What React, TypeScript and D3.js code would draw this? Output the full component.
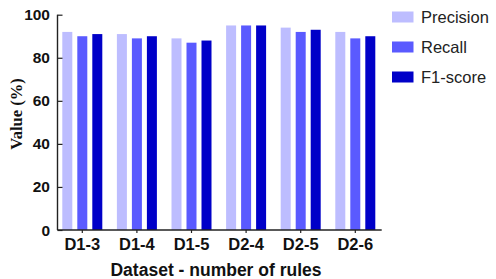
import { useEffect, useRef } from 'react'
import * as d3 from 'd3'

const categories = ['D1-3', 'D1-4', 'D1-5', 'D2-4', 'D2-5', 'D2-6']
const seriesNames = ['Precision', 'Recall', 'F1-score']
const precision = [92, 91, 89, 95, 94, 92]
const recall = [90, 89, 87, 95, 92, 89]
const f1score = [91, 90, 88, 95, 93, 90]
const yTicks = [0, 20, 40, 60, 80, 100]

const colors = ['#bdbdff', '#5a5aff', '#0000c8']

export default function App() {
  const svgRef = useRef(null)

  const svgWidth = 496
  const svgHeight = 279

  useEffect(() => {
    svgRef.current.innerHTML = ''
    const values = [precision, recall, f1score]

    const svg = d3.select(svgRef.current)

    const yScale = d3.scaleLinear()
      .domain([0, 100])
      .range([230, 14.7])

    const xScale = d3.scaleBand()
      .domain(categories)
      .range([55, 382.6])

    const inner = d3.scaleBand()
      .domain(seriesNames)
      .range([-22.5, 22.5])
      .paddingInner(1 / 3)
      .paddingOuter(1 / 6)

    const axisX0 = 57.5
    const axisX1 = 381.7

    // bars
    categories.forEach((c, ci) => {
      const cx = xScale(c) + xScale.bandwidth() / 2
      seriesNames.forEach((s, si) => {
        const v = values[si][ci]
        svg.append('rect')
          .attr('x', cx + inner(s))
          .attr('width', inner.bandwidth())
          .attr('y', yScale(v))
          .attr('height', yScale(0) - yScale(v))
          .attr('fill', colors[si])
      })
    })

    // y axis
    const yAxis = svg.append('g')
      .attr('transform', `translate(${axisX0}, 0)`)
      .call(d3.axisRight(yScale).tickValues(yTicks).tickSize(5).tickFormat(() => ''))
    yAxis.select('.domain').remove()
    yAxis.selectAll('line').attr('stroke', '#222').attr('stroke-width', 1.2)

    yTicks.forEach(t => {
      svg.append('text')
        .attr('x', 50)
        .attr('y', yScale(t) + 5.5)
        .attr('text-anchor', 'end')
        .style('font', 'bold 15.5px "Liberation Sans", Arial, sans-serif')
        .attr('fill', '#111')
        .text(t)
    })

    svg.append('line')
      .attr('x1', axisX0).attr('x2', axisX0)
      .attr('y1', yScale(100)).attr('y2', yScale(0))
      .attr('stroke', '#222').attr('stroke-width', 1.4)

    // x axis
    const xAxis = svg.append('g')
      .attr('transform', `translate(0, ${yScale(0)})`)
      .call(d3.axisBottom(xScale).tickSize(3).tickSizeOuter(0))
    xAxis.select('.domain').remove()
    xAxis.selectAll('line').attr('stroke', '#222').attr('stroke-width', 1.2)
    xAxis.selectAll('text')
      .attr('y', 20)
      .attr('dy', 0)
      .attr('fill', '#111')
      .style('font', 'bold 16.5px "Liberation Sans", Arial, sans-serif')

    svg.append('line')
      .attr('x1', axisX0).attr('x2', axisX1)
      .attr('y1', yScale(0)).attr('y2', yScale(0))
      .attr('stroke', '#222').attr('stroke-width', 1.4)

    // axis titles
    svg.append('text')
      .attr('transform', `translate(21.5, 114) rotate(-90)`)
      .attr('text-anchor', 'middle')
      .style('font', 'bold 16.5px "Liberation Serif", "Times New Roman", serif')
      .attr('fill', '#111')
      .text('Value (%)')

    svg.append('text')
      .attr('x', 216)
      .attr('y', 276)
      .attr('text-anchor', 'middle')
      .style('font', 'bold 17.5px "Liberation Sans", Arial, sans-serif')
      .attr('fill', '#111')
      .text('Dataset - number of rules')

    // legend
    seriesNames.forEach((s, i) => {
      const g = svg.append('g').attr('transform', `translate(392, ${11.5 + i * 30})`)
      g.append('rect')
        .attr('width', 21.5)
        .attr('height', 11)
        .attr('fill', colors[i])
      g.append('text')
        .attr('x', 29)
        .attr('y', 11)
        .style('font', '16.5px "Liberation Sans", Arial, sans-serif')
        .attr('fill', '#222')
        .text(s)
    })
  }, [])

  return (
    <svg
      ref={ svgRef }
      width={ svgWidth }
      height={ svgHeight }
      viewBox={ `0 0 ${svgWidth} ${svgHeight}` }
      style={ { position: 'absolute', left: 0, top: 0, display: 'block', background: '#fff' } }
    />
  )
}
